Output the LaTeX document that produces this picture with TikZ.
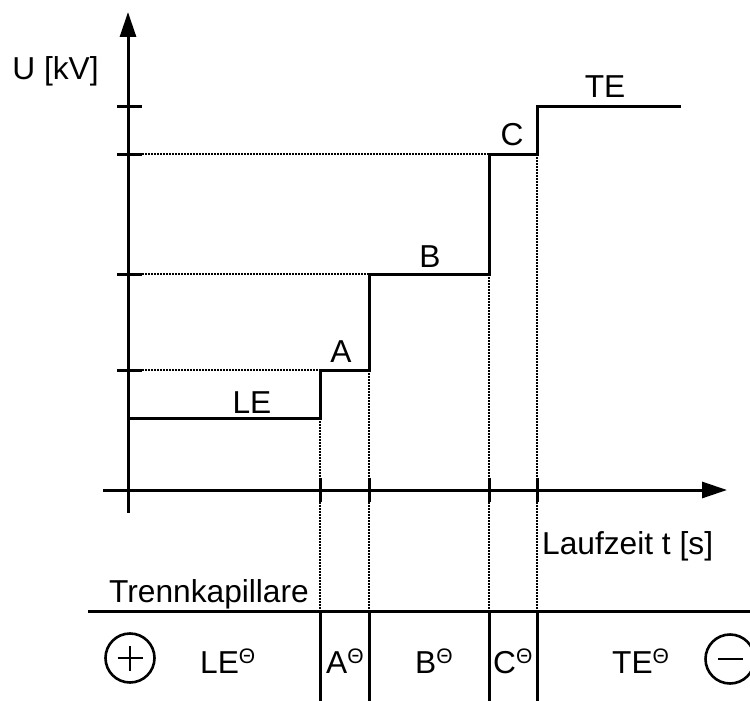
\documentclass[tikz,border=0pt]{standalone}
\usepackage{fontspec}
\setmainfont{Liberation Sans}
\usetikzlibrary{arrows.meta}
\tikzset{
  axis/.style={line width=3pt,-{Triangle[length=25pt,width=16pt]}},
  thick line/.style={line width=3pt},
  tickline/.style={line width=3pt},
  dotline/.style={line width=1.5pt,dash pattern=on 1.5pt off 1.5pt},
  lbl/.style={inner sep=0pt,anchor=base,font=\fontsize{31.7}{37}\selectfont},
  lblw/.style={inner sep=0pt,anchor=base west,font=\fontsize{31.7}{37}\selectfont},
  ion/.style={circle,draw,line width=2.6pt,minimum size=49pt,inner sep=0pt},
}
\newcommand{\negion}{\raisebox{10pt}{\fontsize{21}{22}\selectfont Θ}}
\begin{document}
\begin{tikzpicture}[x=1pt,y=-1pt]
\useasboundingbox (0,0) rectangle (750,701);
% axes
\coordinate (yb) at (128,513);
\coordinate (yt) at (128,12);
\coordinate (xl) at (103,490);
\coordinate (xr) at (727,490);
\draw[axis] (yb) -- (yt);
\draw[axis] (xl) -- (xr);
% y ticks
\foreach \y in {106,154,274,370} \draw[tickline] (117,\y) -- (142,\y);
% x ticks
\foreach \x in {320,369,489,537} \draw[tickline] (\x,478) -- (\x,502);
% step corners
\coordinate (s0) at (128,418);
\coordinate (s1) at (320,418);
\coordinate (s2) at (320,370);
\coordinate (s3) at (369,370);
\coordinate (s4) at (369,274);
\coordinate (s5) at (489,274);
\coordinate (s6) at (489,154);
\coordinate (s7) at (537,154);
\coordinate (s8) at (537,106);
\coordinate (s9) at (681,106);
% dotted guides
\draw[dotline] (142,370) -- (s2);
\draw[dotline] (142,274) -- (s4);
\draw[dotline] (142,154) -- (s6);
\coordinate (k1) at (320,611);
\coordinate (k2) at (369,611);
\coordinate (k3) at (489,611);
\coordinate (k4) at (537,611);
\draw[dotline] (s1) -- (k1);
\draw[dotline] (s3) -- (k2);
\draw[dotline] (s5) -- (k3);
\draw[dotline] (s7) -- (k4);
% step curve
\draw[thick line] (s0) -- (s1) -- (s2) -- (s3) -- (s4) -- (s5) -- (s6) -- (s7) -- (s8) -- (s9);
% labels
\node[lbl] (lu) at (55.5,80) {U [kV]};
\node[lbl] (lle) at (252,413) {LE};
\node[lbl] (la) at (341,362) {A};
\node[lbl] (lb) at (430,267) {B};
\node[lbl] (lc) at (512,145) {C};
\node[lbl] (lte) at (605,97) {TE};
\node[lblw] (lt) at (542,554) {Laufzeit t [s]};
\node[lbl] (ltk) at (209,602) {Trennkapillare};
% capillary
\coordinate (cl) at (88,611);
\coordinate (cr) at (750,611);
\draw[thick line] (cl) -- (cr);
\coordinate (b1) at (320,701);
\coordinate (b2) at (369,701);
\coordinate (b3) at (489,701);
\coordinate (b4) at (537,701);
\draw[thick line] (k1) -- (b1);
\draw[thick line] (k2) -- (b2);
\draw[thick line] (k3) -- (b3);
\draw[thick line] (k4) -- (b4);
% zone labels
\node[lblw] (zle) at (200,673) {LE\negion};
\node[lblw] (za) at (326,673) {A\negion};
\node[lblw] (zb) at (415,673) {B\negion};
\node[lblw] (zc) at (493,673) {C\negion};
\node[lblw] (zte) at (612,673) {TE\negion};
% electrodes
\node[ion] (plus) at (130,658) {};
\draw[line width=2.6pt] ([xshift=-12.5pt]plus.center) -- ([xshift=12.5pt]plus.center);
\draw[line width=2.6pt] ([yshift=-12.5pt]plus.center) -- ([yshift=12.5pt]plus.center);
\node[ion] (minus) at (730,659) {};
\draw[line width=2.6pt] ([xshift=-12.5pt]minus.center) -- ([xshift=12.5pt]minus.center);
\end{tikzpicture}
\end{document}
